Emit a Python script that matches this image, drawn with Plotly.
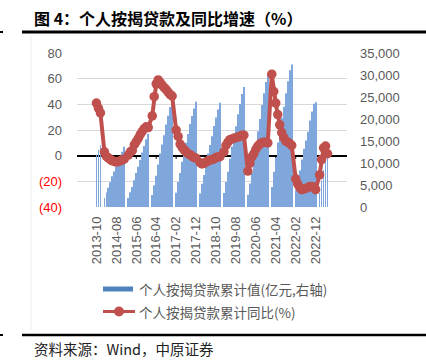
import plotly.graph_objects as go

# ---------------- data ----------------
years = list(range(2013, 2024))
months = []
for y in years:
    for m in range(1, 13):
        if (y == 2013 and m < 10) or (y == 2023 and m > 6):
            continue
        months.append(f"{y}-{m:02d}")

# cumulative personal mortgage loans (100 million yuan), January not published
mortgage_value = [
    11950, 12990, 14033,                                                            # 2013 Oct-Dec
    None, 2050, 3280, 4370, 5600, 6970, 8060, 9160, 10390, 11480, 12570, 13665,      # 2014
    None, 2060, 3380, 4545, 6076, 7737, 9148, 10671, 12364, 13891, 15398, 16662,     # 2015
    None, 2700, 4935, 7090, 9660, 12147, 14180, 16327, 18731, 20767, 22712, 24403,   # 2016
    None, 3240, 5675, 7728, 10288, 12694, 14605, 16572, 18881, 20663, 22371, 23906,  # 2017
    None, 3062, 5306, 7264, 9774, 12186, 14094, 16075, 18409, 20353, 22147, 23706,   # 2018
    None, 3154, 5677, 7990, 10947, 13770, 15997, 18326, 21078, 23406, 25691, 27281,  # 2019
    None, 2776, 5336, 7910, 11111, 14459, 17197, 19975, 23186, 25864, 28389, 29976,  # 2020
    None, 4539, 8004, 11153, 14667, 17929, 20292, 22772, 25852, 28580, 31086, 32388, # 2021
    None, 3722, 6243, 8365, 10780, 13267, 15118, 17079, 19648, 21721, 23470, 23815,  # 2022
    None, 3200, 6100, 8400, 10300, 11600,                                            # 2023
]

# cumulative YoY growth (%)
mortgage_yoy = [
    41, 37, 33.3,
    None, 3, -0.5, -1.8, -3, -4, -4.5, -5, -4.5, -4, -3.2, -2.6,
    None, 0.5, 3, 4, 8.5, 11, 13.5, 16.5, 19, 21, 22.5, 21.9,
    None, 31, 46, 56, 59, 57, 55, 53, 51.5, 49.5, 47.5, 46.5,
    None, 20, 15, 9, 6.5, 4.5, 3, 1.5, 0.8, -0.5, -1.5, -2.0,
    None, -5.5, -6.5, -6, -5, -4, -3.5, -3, -2.5, -1.5, -1, -0.8,
    None, 3, 8, 10.5, 12.5, 13, 13.5, 14, 14.5, 15, 16, 16,
    None, -12, -6, -1, 1.5, 5, 7.5, 9, 10, 10.5, 10.5, 9.9,
    None, 63.5, 50, 41, 32, 24, 18, 14, 11.5, 10.5, 9.5, 8.0,
    None, -18, -22, -25, -26.5, -26, -25.5, -25, -24, -24, -24.5, -26.5,
    None, -15, -3, 6, 7.5, 1.5,
]

x_tick_labels = ["2013-10", "2014-08", "2015-06", "2016-04", "2017-02", "2017-12",
                 "2018-10", "2019-08", "2020-06", "2021-04", "2022-02", "2022-12"]
left_ticks = [-40, -20, 0, 20, 40, 60, 80]
left_ticktext = ['<span style="color:#FF0000">(40)</span>',
                 '<span style="color:#FF0000">(20)</span>', "0", "20", "40", "60", "80"]
right_ticks = [0, 5000, 10000, 15000, 20000, 25000, 30000, 35000]

title_text = "<b>图 4：个人按揭贷款及同比增速（%）</b>"
legend_bar = "个人按揭贷款累计值(亿元,右轴)"
legend_line = "个人按揭贷款累计同比(%)"
source_text = "资料来源：Wind，中原证券"

# ---------------- layout helpers ----------------
W, H = 426, 361
L, R, T, B = 77, 347, 53, 207


def xp(px):
    return (px - L) / (R - L)


def yp(py):
    return (B - py) / (B - T)


BAR_COLOR = "#7FA7DC"
LINE_COLOR = "#C0504D"
GRAY = "#595959"
TICK_FONT = dict(family="Liberation Sans, Arial, sans-serif", size=13, color=GRAY)
CJK = "Noto Sans CJK SC, sans-serif"

fig = go.Figure()
fig.add_trace(go.Bar(x=months, y=mortgage_value, marker=dict(color=BAR_COLOR, line=dict(width=0)),
                     yaxis="y", showlegend=False, hoverinfo="skip"))
fig.add_trace(go.Scatter(x=months, y=mortgage_yoy, mode="lines+markers", connectgaps=True,
                         line=dict(color=LINE_COLOR, width=4),
                         marker=dict(color=LINE_COLOR, size=9.5),
                         yaxis="y2", showlegend=False, hoverinfo="skip"))

shapes = []
# zero-axis tick marks
for lab in x_tick_labels:
    shapes.append(dict(type="line", xref="x", yref="y2", x0=lab, x1=lab, y0=0, y1=-2.5,
                       line=dict(color="black", width=1), layer="below"))
# title / bottom rules
shapes.append(dict(type="line", xref="paper", yref="paper", x0=xp(22), x1=xp(426),
                   y0=yp(32), y1=yp(32), line=dict(color="black", width=3)))
shapes.append(dict(type="line", xref="paper", yref="paper", x0=xp(0), x1=xp(3),
                   y0=yp(32), y1=yp(32), line=dict(color="black", width=2)))
shapes.append(dict(type="line", xref="paper", yref="paper", x0=xp(22), x1=xp(426),
                   y0=yp(335), y1=yp(335), line=dict(color="black", width=2.5)))
shapes.append(dict(type="line", xref="paper", yref="paper", x0=xp(0), x1=xp(3),
                   y0=yp(335), y1=yp(335), line=dict(color="black", width=2)))
# faint frame line
shapes.append(dict(type="line", xref="paper", yref="paper", x0=xp(31), x1=xp(31),
                   y0=yp(36), y1=yp(330), line=dict(color="#EDEDED", width=1)))
# custom legend
shapes.append(dict(type="rect", xref="paper", yref="paper", x0=xp(103), x1=xp(133),
                   y0=yp(286.5), y1=yp(291.5), fillcolor="#4F81BD", line=dict(width=0)))
shapes.append(dict(type="line", xref="paper", yref="paper", x0=xp(103), x1=xp(135),
                   y0=yp(311.5), y1=yp(311.5), line=dict(color=LINE_COLOR, width=3)))
shapes.append(dict(type="circle", xref="paper", yref="paper", x0=xp(114), x1=xp(124),
                   y0=yp(306.5), y1=yp(316.5), fillcolor=LINE_COLOR, line=dict(width=0)))

annotations = [
    dict(text=title_text, xref="paper", yref="paper", x=xp(32), y=yp(18), xanchor="left",
         yanchor="middle", showarrow=False, font=dict(family=CJK, size=16, color="black")),
    dict(text=legend_bar, xref="paper", yref="paper", x=xp(137), y=yp(289), xanchor="left",
         yanchor="middle", showarrow=False, font=dict(family=CJK, size=13.5, color=GRAY)),
    dict(text=legend_line, xref="paper", yref="paper", x=xp(137), y=yp(311.5), xanchor="left",
         yanchor="middle", showarrow=False, font=dict(family=CJK, size=13.5, color=GRAY)),
    dict(text=source_text, xref="paper", yref="paper", x=xp(32), y=yp(348), xanchor="left",
         yanchor="middle", showarrow=False, font=dict(family=CJK, size=14.5, color="#222222")),
]

fig.update_layout(
    width=W, height=H, autosize=False,
    margin=dict(l=L, r=W - R, t=T, b=H - B, pad=0),
    paper_bgcolor="white", plot_bgcolor="white",
    bargap=0.6,
    showlegend=False,
    xaxis=dict(type="category", categoryorder="array", categoryarray=months,
               tickmode="array", tickvals=x_tick_labels, ticktext=x_tick_labels,
               tickangle=-90, ticks="", showgrid=False, showline=False, zeroline=False,
               tickfont=TICK_FONT, ticklabelstandoff=6),
    yaxis=dict(side="right", range=[0, 35000], tickmode="array", tickvals=right_ticks,
               tickformat=",d", showgrid=False, zeroline=False, showline=False, ticks="",
               tickfont=TICK_FONT, ticklabelstandoff=12),
    yaxis2=dict(side="left", overlaying="y", range=[-40, 80], tickmode="array",
                tickvals=left_ticks, ticktext=left_ticktext, showgrid=True,
                gridcolor="#D9D9D9", gridwidth=1, zeroline=True, zerolinecolor="black",
                zerolinewidth=1.5, showline=False, ticks="", tickfont=TICK_FONT,
                ticklabelstandoff=14),
    shapes=shapes,
    annotations=annotations,
)

fig.write_html("out.html", config={"displayModeBar": False},
               post_script="document.body.style.margin='0';document.body.style.padding='0';"
                           "document.body.style.overflow='hidden';")
